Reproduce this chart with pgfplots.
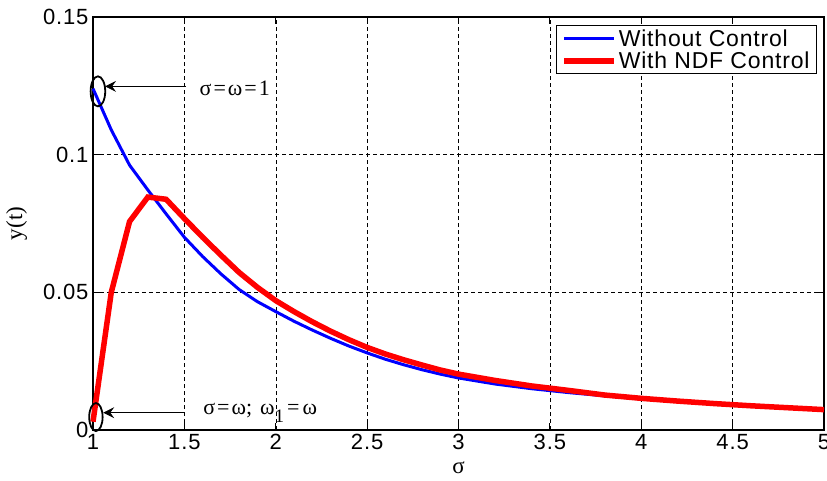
\documentclass[border=0pt]{standalone}
\usepackage{fontspec}
\setmainfont{Liberation Sans}
\newfontfamily\tnr{Liberation Serif}
\newfontfamily\legfont[LetterSpace=3.5]{Liberation Sans}
\newfontfamily\tickfont[LetterSpace=4]{Liberation Sans}
\usepackage{pgfplots}
\pgfplotsset{compat=1.18}
\usetikzlibrary{arrows.meta}
\begin{document}
\begin{tikzpicture}
\begin{axis}[
  scale only axis, width=731pt, height=413pt,
  xmin=1, xmax=5, ymin=0, ymax=0.15,
  xtick={1,1.5,2,2.5,3,3.5,4,4.5,5},
  xticklabels={1,1.5,2,2.5,3,3.5,4,4.5,5},
  ytick={0,0.05,0.1,0.15},
  yticklabels={0,0.05,0.1,0.15},
  scaled y ticks=false,
  tick align=inside, major tick length=7pt,
  tick style={black, line width=1pt},
  axis line style={black, line width=1.5pt},
  grid=major,
  major grid style={black, dash pattern=on 4pt off 3pt, line width=0.5pt},
  ticklabel style={font=\tickfont\fontsize{22}{24}\selectfont},
  xticklabel style={yshift=-1pt},
  yticklabel style={xshift=-1pt},
  xlabel={\tnr\fontsize{23}{25}\selectfont σ},
  ylabel={\tnr\fontsize{23}{25}\selectfont y(t)},
  xlabel style={yshift=-7pt, inner sep=1pt},
  ylabel style={yshift=9pt},
  clip=false,
  legend style={at={(axis description cs:0.9904,0.9806)}, anchor=north east,
    draw=black, line width=1pt, font=\legfont\fontsize{23}{25}\selectfont,
    inner xsep=5pt, inner ysep=2pt, row sep=0pt},
  legend cell align=left,
  legend image code/.code={\draw[#1] (0pt,0pt) -- (50pt,0pt);},
]
\addplot[blue, line width=3pt] coordinates {
(1.0,0.1240) (1.1,0.1090) (1.2,0.0962) (1.3,0.0872) (1.4,0.0785)
(1.5,0.0700) (1.6,0.0630) (1.7,0.0567) (1.8,0.0510) (1.9,0.0466)
(2.0,0.0430) (2.1,0.0395) (2.2,0.0363) (2.3,0.0333) (2.4,0.0305)
(2.5,0.0280) (2.6,0.0257) (2.7,0.0237) (2.8,0.0219) (2.9,0.0203)
(3.0,0.0189) (3.2,0.0167) (3.4,0.0150) (3.6,0.0136) (3.8,0.0124)
(4.0,0.0113) (4.2,0.0104) (4.4,0.0096) (4.6,0.0089) (4.8,0.0082)
(5.0,0.0075)};
\addlegendentry{Without Control}
\addplot[red, line width=5.5pt] coordinates {
(1.0,0.0030) (1.1,0.0500) (1.2,0.0757) (1.3,0.0846) (1.4,0.0838)
(1.5,0.0768) (1.6,0.0700) (1.7,0.0635) (1.8,0.0572) (1.9,0.0518)
(2.0,0.0470) (2.1,0.0430) (2.2,0.0393) (2.3,0.0359) (2.4,0.0328)
(2.5,0.0300) (2.6,0.0276) (2.7,0.0255) (2.8,0.0236) (2.9,0.0218)
(3.0,0.0203) (3.2,0.0180) (3.4,0.0160) (3.6,0.0144) (3.8,0.0127)
(4.0,0.0115) (4.2,0.0105) (4.4,0.0096) (4.6,0.0088) (4.8,0.0081)
(5.0,0.0074)};
\addlegendentry{With NDF Control}
\draw[black, line width=1.8pt] (axis cs:1.027,0.123) ellipse [x radius=7.3pt, y radius=15pt];
\draw[black, line width=1.8pt] (axis cs:1.016,0.0047) ellipse [x radius=6.7pt, y radius=14pt];
\draw[-{Stealth[length=11pt,width=11pt,inset=4pt]}, line width=0.7pt] (axis cs:1.51,0.1248) -- (axis cs:1.066,0.1248);
\draw[-{Stealth[length=11pt,width=11pt,inset=4pt]}, line width=0.7pt] (axis cs:1.498,0.0063) -- (axis cs:1.056,0.0063);
\node[anchor=base west, inner sep=0pt] at (axis cs:1.583,0.1215) {\tnr\fontsize{22}{24}\selectfont σ\hspace{2pt}=\hspace{2pt}ω\hspace{2pt}=\hspace{2pt}1};
\node[anchor=base west, inner sep=0pt] at (axis cs:1.603,0.00545) {\tnr\fontsize{22}{24}\selectfont σ\hspace{2pt}=\hspace{2pt}ω;\hspace{8pt}ω\raisebox{-8pt}{\fontsize{19}{19}\selectfont 1}\hspace{3pt}=\hspace{3pt}ω};
\end{axis}
\pgfresetboundingbox
\path[use as bounding box] ([shift={(-93pt,-50pt)}]current axis.south west) rectangle ([shift={(3pt,17pt)}]current axis.north east);
\end{tikzpicture}
\end{document}
